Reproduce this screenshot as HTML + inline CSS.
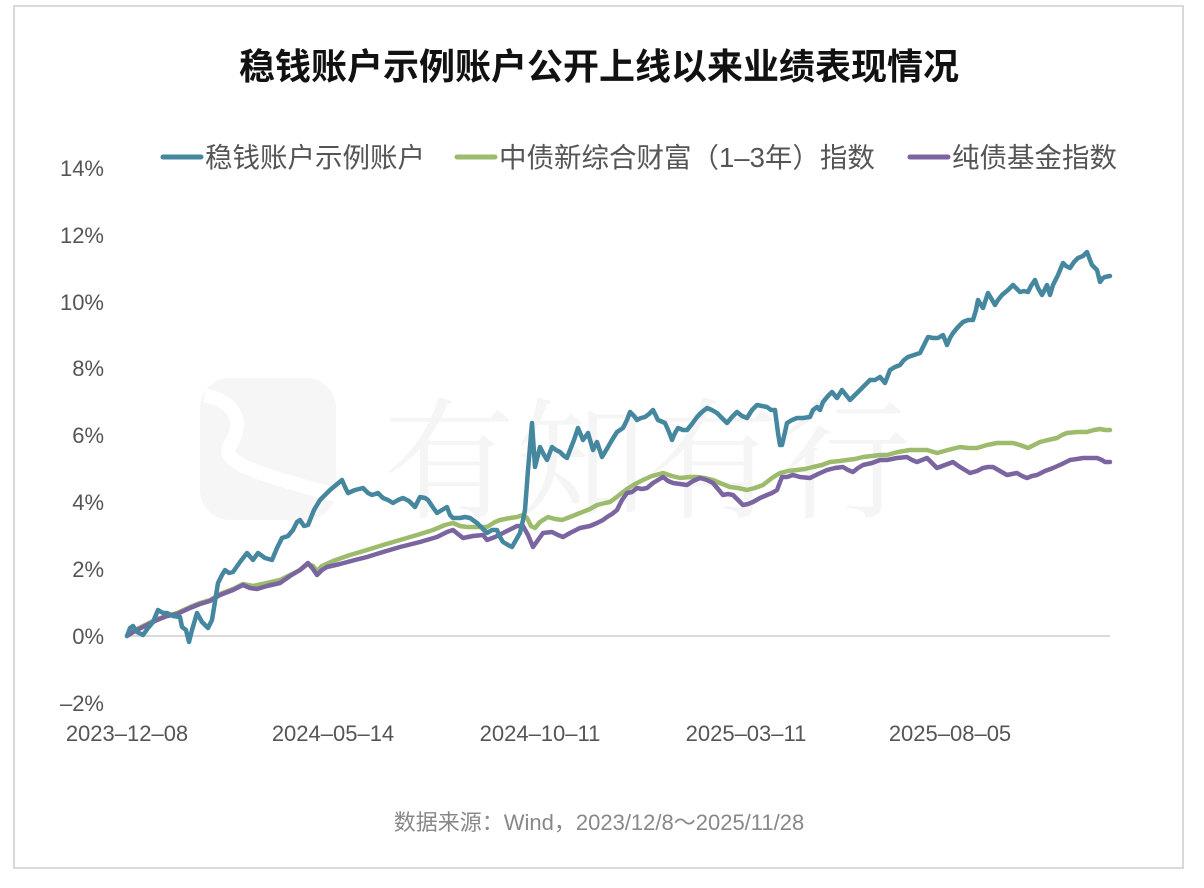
<!DOCTYPE html>
<html><head><meta charset="utf-8"><style>
html,body{margin:0;padding:0;background:#fff;}
svg{display:block;}
</style></head><body>
<svg width="1204" height="888" viewBox="0 0 1204 888" xmlns="http://www.w3.org/2000/svg">
<rect x="0" y="0" width="1204" height="888" fill="#fff"/>
<rect x="14" y="6" width="1169" height="862" fill="#fff" stroke="#d9d9d9" stroke-width="2"/>
<!-- watermark -->
<g opacity="1">
<rect x="200" y="378" width="136" height="142" rx="30" fill="#f6f6f6"/>
<path d="M205,395 C245,405 240,430 230,445 C222,460 240,470 336,495" fill="none" stroke="#fff" stroke-width="14"/>
<text x="383" y="508" font-family="'Liberation Serif','Noto Serif CJK SC',serif" font-size="132" fill="#f5f5f5">有知有行</text>
</g>
<text x="599" y="79" text-anchor="middle" font-family="'Liberation Sans','Noto Sans CJK SC',sans-serif" font-size="36" font-weight="bold" fill="#111">稳钱账户示例账户公开上线以来业绩表现情况</text>
<!-- legend -->
<g font-family="'Liberation Sans','Noto Sans CJK SC',sans-serif" font-size="27.5" fill="#555">
<line x1="163" y1="157" x2="201" y2="157" stroke="#44879f" stroke-width="5" stroke-linecap="round"/>
<text x="205" y="167">稳钱账户示例账户</text>
<line x1="457" y1="157" x2="495" y2="157" stroke="#9dbb6c" stroke-width="5" stroke-linecap="round"/>
<text x="499" y="167">中债新综合财富（1–3年）指数</text>
<line x1="910" y1="157" x2="948" y2="157" stroke="#7b65a0" stroke-width="5" stroke-linecap="round"/>
<text x="952" y="167">纯债基金指数</text>
</g>
<!-- y axis labels -->
<g font-family="'Liberation Sans','Noto Sans CJK SC',sans-serif" font-size="22" fill="#555" text-anchor="end">
<text x="104" y="176">14%</text>
<text x="104" y="243">12%</text>
<text x="104" y="310">10%</text>
<text x="104" y="376">8%</text>
<text x="104" y="443">6%</text>
<text x="104" y="510">4%</text>
<text x="104" y="577">2%</text>
<text x="104" y="644">0%</text>
<text x="104" y="711">–2%</text>
</g>
<line x1="127" y1="636" x2="1110" y2="636" stroke="#d9d9d9" stroke-width="2"/>
<!-- x labels -->
<g font-family="'Liberation Sans','Noto Sans CJK SC',sans-serif" font-size="22" fill="#555" text-anchor="middle">
<text x="127" y="741">2023–12–08</text>
<text x="333" y="741">2024–05–14</text>
<text x="540" y="741">2024–10–11</text>
<text x="746" y="741">2025–03–11</text>
<text x="950" y="741">2025–08–05</text>
</g>
<!-- series -->
<g fill="none" stroke-width="4.5" stroke-linejoin="round" stroke-linecap="round">
<polyline stroke="#9dbb6c" points="127,636 135,630 145,625 157,619 167,616 177,613 190,607 200,603 210,600 220,594 233,589 243,584 253,586 267,583 280,580 290,575 300,570 308,564 313,566 317,571 322,566 333,561 350,555 367,550 383,545 400,540 417,535 433,530 445,525 453,523 460,526 467,527 477,527 487,527 495,522 500,520 510,518 517,517 523,515 527,518 531,526 535,528 540,522 548,517 555,519 562,520 570,517 580,513 590,509 597,505 605,503 610,502 618,496 627,489 635,484 643,480 652,476 663,473 672,476 680,478 690,477 697,477 705,478 713,480 720,483 730,487 738,488 747,490 755,488 763,485 772,478 780,473 788,471 797,470 805,469 813,467 822,465 830,462 840,461 847,460 855,459 863,457 872,456 880,455 887,455 898,452 910,450 918,450 927,450 937,453 948,450 960,447 968,448 977,448 987,445 997,443 1005,443 1013,443 1020,445 1028,448 1034,445 1040,442 1048,440 1057,438 1062,435 1067,433 1077,432 1087,432 1094,430 1100,429 1105,430 1110,430"/>
<polyline stroke="#7b65a0" points="127,636 135,631 145,626 157,620 167,616 177,614 190,608 200,604 210,601 220,595 233,590 243,585 250,588 257,589 267,586 280,583 290,576 300,570 308,563 313,569 317,575 322,570 327,567 340,564 355,560 367,557 383,552 400,547 420,542 437,537 447,532 453,530 458,534 463,538 473,536 483,535 487,540 495,537 505,532 517,526 523,526 528,535 533,547 538,540 543,533 552,532 558,535 563,537 570,533 580,528 590,526 597,523 603,520 607,517 612,514 617,510 622,500 627,493 632,492 637,488 642,489 647,488 653,483 658,480 663,477 668,481 673,483 680,484 687,485 693,481 700,478 707,480 713,483 718,489 723,495 728,494 733,495 738,500 743,505 748,504 753,502 760,498 767,495 772,493 777,490 780,482 782,477 787,477 793,475 800,477 810,478 818,474 827,470 835,468 843,467 848,470 853,472 858,468 863,465 872,463 880,460 887,460 897,458 907,457 912,460 917,462 922,460 927,458 932,463 937,468 945,465 953,462 957,465 960,467 965,470 970,473 977,471 983,468 988,467 993,467 1000,471 1007,475 1012,474 1017,473 1022,476 1027,478 1032,476 1037,475 1045,471 1053,468 1062,464 1070,460 1077,459 1083,458 1090,458 1097,458 1102,460 1105,462 1110,462"/>
<polyline stroke="#44879f" points="127,636 130,628 133,626 137,632 143,635 148,628 153,622 158,610 163,613 167,613 173,616 180,617 182,627 186,630 189,642 192,630 197,613 202,622 208,628 212,620 218,583 222,575 225,570 229,573 233,572 240,562 247,553 253,560 258,553 265,558 272,560 277,548 282,538 288,536 293,530 297,522 300,520 304,526 308,525 314,510 320,500 325,495 330,490 336,485 342,480 345,487 348,493 355,490 363,488 368,493 372,495 378,493 383,498 388,500 393,503 398,500 403,498 409,501 415,507 420,497 425,498 428,500 432,506 437,513 442,510 447,507 450,515 453,518 460,518 465,517 470,518 477,523 482,528 487,533 492,530 497,530 500,537 503,542 508,545 512,547 516,540 520,533 523,520 525,510 528,470 532,423 535,467 538,455 540,447 544,455 547,460 552,447 556,450 560,452 564,456 567,458 570,450 574,440 578,428 583,440 588,433 593,450 597,442 602,457 605,452 608,447 612,440 617,432 623,428 627,420 630,412 634,416 637,420 641,418 645,417 649,414 653,410 658,420 665,423 669,432 672,440 675,433 678,428 683,430 687,430 692,424 697,417 702,412 707,408 712,410 717,413 722,418 727,423 732,417 737,412 742,416 747,418 752,410 757,405 762,406 767,407 771,410 775,410 778,433 780,445 782,445 785,432 787,423 792,420 797,418 803,418 810,417 813,410 817,407 820,410 823,402 828,396 832,392 837,398 842,390 846,395 850,400 855,395 860,390 865,385 870,380 875,380 880,377 885,383 890,370 895,367 900,365 904,360 908,357 914,355 920,353 924,345 928,337 933,338 938,338 943,335 947,345 950,338 953,333 958,327 963,322 968,320 973,320 976,310 978,300 983,308 988,293 991,298 995,305 998,300 1002,295 1008,290 1013,285 1017,289 1020,292 1024,291 1028,292 1031,286 1035,280 1038,288 1042,295 1045,289 1047,285 1050,295 1053,285 1058,275 1063,263 1066,266 1070,268 1074,262 1078,258 1083,256 1087,252 1090,260 1092,265 1095,268 1097,270 1099,278 1100,282 1103,278 1105,277 1110,276"/>
</g>
<text x="599" y="830" text-anchor="middle" font-family="'Liberation Sans','Noto Sans CJK SC',sans-serif" font-size="22" fill="#888">数据来源：Wind，2023/12/8～2025/11/28</text>
</svg>
</body></html>
